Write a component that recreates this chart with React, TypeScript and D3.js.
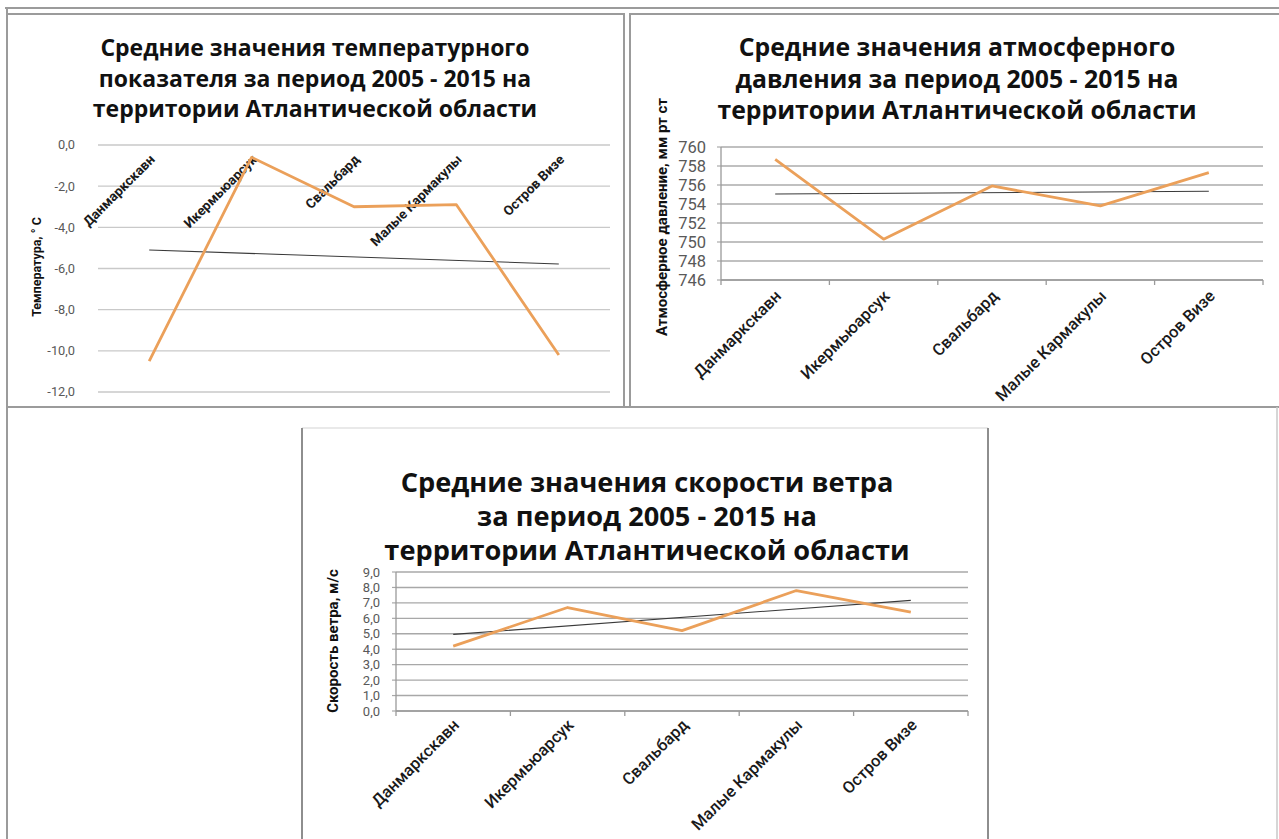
import React from "react";
import * as d3 from "d3";

const categories = ["Данмаркскавн", "Икермьюарсук", "Свальбард", "Малые Кармакулы", "Остров Визе"];
const temperature = [-10.5, -0.6, -3.0, -2.9, -10.2];
const pressure = [758.7, 750.3, 755.9, 753.8, 757.3];
const windSpeed = [4.2, 6.7, 5.2, 7.8, 6.4];

const temperatureTicks = [0, -2, -4, -6, -8, -10, -12];
const pressureTicks = [760, 758, 756, 754, 752, 750, 748, 746];
const windTicks = [9, 8, 7, 6, 5, 4, 3, 2, 1, 0];

const temperatureTitle = [
  "Средние значения температурного",
  "показателя за период 2005 - 2015 на",
  "территории Атлантической области",
];
const pressureTitle = [
  "Средние значения атмосферного",
  "давления за период 2005 - 2015 на",
  "территории Атлантической области",
];
const windTitle = [
  "Средние значения скорости ветра",
  "за период 2005 - 2015 на",
  "территории Атлантической области",
];
const temperatureAxisTitle = "Температура, ° С";
const pressureAxisTitle = "Атмосферное давление, мм рт ст";
const windAxisTitle = "Скорость ветра, м/с";

const locale = d3.formatLocale({
  decimal: ",",
  thousands: " ",
  grouping: [3],
  currency: ["", ""],
  minus: "-",
});
const fmt1 = locale.format(".1f");
const fmt0 = locale.format("d");

const FONT = "Roboto, 'Open Sans', sans-serif";
const TITLE_FONT = "'Open Sans', Roboto, sans-serif";
const ORANGE = "#EBA05A";
const TREND = "#3a3a3a";

type Cfg = {
  values: number[];
  ticks: number[];
  domain: [number, number];
  fmt: (n: number) => string;
  x0: number;
  x1: number;
  yTop: number;
  yBottom: number;
  axisValue: number;
  title: string[];
  titleX: number;
  titleY0: number;
  titleStep: number;
  titleSize: number;
  axisTitle: string;
  axisTitleX: number;
  axisTitleY: number;
  axisTitleSize: number;
  tickSize: number;
  tickRight: number;
  catSize: number;
  catWeight: number;
  catOffset: number;
  gridColor: string;
  axisLines: boolean;
};

function Chart({ c }: { c: Cfg }) {
  const x = d3.scaleBand<string>().domain(categories).range([c.x0, c.x1]).padding(0);
  const y = d3.scaleLinear().domain(c.domain).range([c.yBottom, c.yTop]);
  const bw = x.bandwidth();
  const cx = (i: number) => (x(categories[i]) as number) + bw / 2;

  const line = d3
    .line<number>()
    .x((_, i) => cx(i))
    .y((d) => y(d));

  // linear trend (least squares) over category index
  const idx = c.values.map((_, i) => i + 1);
  const mx = d3.mean(idx) as number;
  const my = d3.mean(c.values) as number;
  const slope =
    (d3.sum(idx, (v, i) => (v - mx) * (c.values[i] - my)) as number) /
    (d3.sum(idx, (v) => (v - mx) * (v - mx)) as number);
  const trendVals = idx.map((v) => my + slope * (v - mx));
  const trendPts: [number, number][] = [
    [cx(0), y(trendVals[0])],
    [cx(categories.length - 1), y(trendVals[trendVals.length - 1])],
  ];

  const axisY = y(c.axisValue);

  return (
    <g>
      {c.title.map((t, i) => (
        <text
          key={i}
          x={c.titleX}
          y={c.titleY0 + i * c.titleStep}
          textAnchor="middle"
          fontFamily={TITLE_FONT}
          fontWeight={700}
          fontSize={c.titleSize}
          fill="#111"
        >
          {t}
        </text>
      ))}
      {c.ticks.map((t) => (
        <g key={t}>
          <line x1={c.x0} x2={c.x1} y1={y(t)} y2={y(t)} stroke={c.gridColor} strokeWidth={1.4} />
          {c.axisLines && (
            <line x1={c.x0 - 4} x2={c.x0} y1={y(t)} y2={y(t)} stroke={c.gridColor} strokeWidth={1.2} />
          )}
          <text
            x={c.tickRight}
            y={y(t)}
            dy="0.35em"
            textAnchor="end"
            fontFamily={FONT}
            fontSize={c.tickSize}
            fill="#595959"
          >
            {c.fmt(t)}
          </text>
        </g>
      ))}
      {c.axisLines && (
        <g>
          <line x1={c.x0} x2={c.x0} y1={c.yTop} y2={c.yBottom} stroke="#9a9a9a" strokeWidth={1.3} />
          <line x1={c.x0} x2={c.x1} y1={axisY} y2={axisY} stroke="#9a9a9a" strokeWidth={1.4} />
          {d3.range(categories.length + 1).map((i) => (
            <line
              key={i}
              x1={c.x0 + i * bw}
              x2={c.x0 + i * bw}
              y1={axisY}
              y2={axisY + 5}
              stroke="#9a9a9a"
              strokeWidth={1.3}
            />
          ))}
        </g>
      )}
      <text
        transform={`translate(${c.axisTitleX},${c.axisTitleY}) rotate(-90)`}
        textAnchor="middle"
        dy="0.35em"
        fontFamily={FONT}
        fontWeight={700}
        fontSize={c.axisTitleSize}
        fill="#111"
      >
        {c.axisTitle}
      </text>
      {categories.map((name, i) => (
        <text
          key={name}
          transform={`translate(${cx(i) + 3},${axisY + c.catOffset}) rotate(-45)`}
          textAnchor="end"
          dy="0.35em"
          fontFamily={FONT}
          fontWeight={c.catWeight}
          fontSize={c.catSize}
          fill="#1a1a1a"
        >
          {name}
        </text>
      ))}
      <path d={d3.line()(trendPts) as string} fill="none" stroke={TREND} strokeWidth={1.1} />
      <path
        d={line(c.values) as string}
        fill="none"
        stroke={ORANGE}
        strokeWidth={2.8}
        strokeLinejoin="round"
      />
    </g>
  );
}

const tempCfg: Cfg = {
  values: temperature,
  ticks: temperatureTicks,
  domain: [-12, 0],
  fmt: fmt1,
  x0: 98,
  x1: 610,
  yTop: 145,
  yBottom: 392,
  axisValue: 0,
  title: temperatureTitle,
  titleX: 315,
  titleY0: 56,
  titleStep: 30.5,
  titleSize: 23,
  axisTitle: temperatureAxisTitle,
  axisTitleX: 37,
  axisTitleY: 267,
  axisTitleSize: 12.5,
  tickSize: 12.8,
  tickRight: 75,
  catSize: 13.5,
  catWeight: 700,
  catOffset: 12,
  gridColor: "#c9c9c9",
  axisLines: false,
};

const pressureCfg: Cfg = {
  values: pressure,
  ticks: pressureTicks,
  domain: [746, 760],
  fmt: fmt0,
  x0: 721,
  x1: 1263,
  yTop: 147,
  yBottom: 280,
  axisValue: 746,
  title: pressureTitle,
  titleX: 957,
  titleY0: 56,
  titleStep: 31.5,
  titleSize: 24.8,
  axisTitle: pressureAxisTitle,
  axisTitleX: 662,
  axisTitleY: 217,
  axisTitleSize: 15,
  tickSize: 16.5,
  tickRight: 706,
  catSize: 16.5,
  catWeight: 500,
  catOffset: 13,
  gridColor: "#ababab",
  axisLines: true,
};

const windCfg: Cfg = {
  values: windSpeed,
  ticks: windTicks,
  domain: [0, 9],
  fmt: fmt1,
  x0: 396,
  x1: 968,
  yTop: 572,
  yBottom: 711,
  axisValue: 0,
  title: windTitle,
  titleX: 647,
  titleY0: 492,
  titleStep: 34,
  titleSize: 27.2,
  axisTitle: windAxisTitle,
  axisTitleX: 333,
  axisTitleY: 641,
  axisTitleSize: 15,
  tickSize: 13,
  tickRight: 380,
  catSize: 16.5,
  catWeight: 500,
  catOffset: 11,
  gridColor: "#a8a8a8",
  axisLines: true,
};

export default function App() {
  const border = "#9b9b9b";
  return (
    <svg
      width={1279}
      height={839}
      style={{ position: "fixed", left: 0, top: 0, background: "#fff" }}
    >
      <rect x={0} y={0} width={1279} height={839} fill="#fff" />
      {/* frames */}
      <line x1={5} x2={1279} y1={8} y2={8} stroke={border} strokeWidth={2} />
      <line x1={7} x2={7} y1={8} y2={839} stroke={border} strokeWidth={2} />
      <rect x={7} y={14} width={617} height={393} fill="none" stroke={border} strokeWidth={2} />
      <rect x={630} y={14} width={660} height={393} fill="none" stroke={border} strokeWidth={2} />
      <line x1={7} x2={1279} y1={407} y2={407} stroke={border} strokeWidth={2} />
      <line x1={1277} x2={1277} y1={407} y2={839} stroke="#c8c8c8" strokeWidth={1.5} />
      <line x1={302} x2={988} y1={428} y2={428} stroke="#e2e2e2" strokeWidth={1.5} />
      <line x1={302} x2={302} y1={428} y2={839} stroke="#8e8e8e" strokeWidth={2} />
      <line x1={988} x2={988} y1={428} y2={839} stroke="#8e8e8e" strokeWidth={2} />
      <Chart c={tempCfg} />
      <Chart c={pressureCfg} />
      <Chart c={windCfg} />
    </svg>
  );
}
